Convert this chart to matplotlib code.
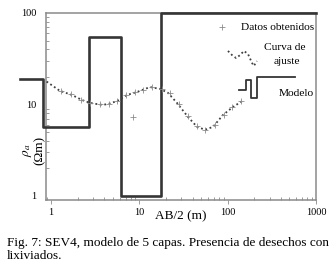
import matplotlib
matplotlib.use('Agg')
import matplotlib.pyplot as plt
from matplotlib.ticker import LogLocator, NullFormatter, FixedLocator, FixedFormatter

# layered model (steps-post): AB/2 where each layer starts, resistivity of layer
model_ab2 = [0.45, 0.81, 2.7, 6.2, 17.6, 1000]
model_rho = [19.0, 5.7, 55.0, 1.0, 100.0, 100.0]

# fitted curve
fit_ab2 = [0.81, 1.26, 1.73, 2.24, 2.77, 3.78, 4.42, 5.59, 7.26, 9.42, 13.2,
           17.2, 21.1, 26.7, 35.6, 45.0, 55.5, 68.4, 88.7, 115, 146]
fit_rho = [19.0, 14.1, 12.7, 11.2, 10.4, 9.9, 10.1, 10.9, 12.7, 13.7, 15.5,
           14.8, 13.4, 10.4, 7.3, 5.7, 5.3, 5.7, 7.7, 9.4, 10.9]

# field data
obs_ab2 = [1.3, 1.7, 2.2, 2.8, 3.6, 4.5, 5.6, 7.1, 8.5, 9.0, 11, 14, 18, 22,
           28, 36, 45, 56, 71, 90, 112, 140]
obs_rho = [14.1, 12.9, 11.3, 10.4, 10.0, 10.1, 10.9, 12.6, 7.3, 13.6, 14.5,
           15.6, 14.8, 13.2, 10.2, 7.4, 5.8, 5.3, 5.9, 7.6, 9.3, 10.8]

x_ticks = [1, 10, 100, 1000]
x_labels = ['1', '10', '100', '1000']
y_ticks = [1, 10, 100]
y_labels = ['1', '10', '100']

# legend glyph shapes (axes fraction)
wave_x = [0.674, 0.689, 0.704, 0.719, 0.733, 0.748, 0.763, 0.770, 0.781]
wave_y = [0.797, 0.775, 0.759, 0.775, 0.797, 0.781, 0.733, 0.717, 0.743]
step_x = [0.715, 0.741, 0.741, 0.759, 0.759, 0.781, 0.781, 0.922]
step_y = [0.588, 0.588, 0.642, 0.642, 0.545, 0.545, 0.658, 0.658]

plt.rcParams['font.family'] = ['Liberation Serif', 'DejaVu Serif']
plt.rcParams['mathtext.fontset'] = 'stix'

fig = plt.figure(figsize=(3.34, 2.70), dpi=100)
ax = fig.add_axes([0.1377, 0.2593, 0.8084, 0.6926])
ax.set_xscale('log')
ax.set_yscale('log')
ax.set_xlim(0.878, 1000)
ax.set_ylim(0.904, 100)

spine_col = '#8a8a8a'
for s in ax.spines.values():
    s.set_color(spine_col)
    s.set_linewidth(1.1)

model_col = '#353535'
ax.plot(model_ab2, model_rho, drawstyle='steps-post', color=model_col,
        lw=1.9, clip_on=False, zorder=3)
ax.plot(fit_ab2, fit_rho, linestyle=(0, (1, 1.5)), color='#404040', lw=1.3,
        zorder=4)
ax.plot(obs_ab2, obs_rho, linestyle='none', marker='+', ms=4, mew=0.6,
        color='#8c8c8c', zorder=5)

ax.xaxis.set_major_locator(FixedLocator(x_ticks))
ax.xaxis.set_major_formatter(FixedFormatter(x_labels))
ax.yaxis.set_major_locator(FixedLocator(y_ticks))
ax.yaxis.set_major_formatter(FixedFormatter(y_labels))
ax.xaxis.set_minor_locator(LogLocator(base=10, subs=range(2, 10)))
ax.yaxis.set_minor_locator(LogLocator(base=10, subs=range(2, 10)))
ax.xaxis.set_minor_formatter(NullFormatter())
ax.yaxis.set_minor_formatter(NullFormatter())
ax.tick_params(which='major', direction='out', length=3, width=0.6,
               color=spine_col, labelsize=7.5, pad=3)
ax.tick_params(which='minor', direction='in', length=2.5, width=0.6,
               color=spine_col)
ax.tick_params(axis='y', which='major', length=0, pad=7)

ax.text(0.5, -0.055, 'AB/2 (m)', transform=ax.transAxes, ha='center',
        va='top', fontsize=9.5)
ax.text(-0.048, 0.267, '$\\rho_a$\n(\u03a9m)', transform=ax.transAxes,
        rotation=90, ha='center', va='center', ma='center', fontsize=9.5,
        linespacing=1.0)

# legend
ax.plot([0.652], [0.925], marker='+', ms=4, mew=0.6, color='#8c8c8c',
        transform=ax.transAxes, linestyle='none')
ax.text(0.993, 0.925, 'Datos obtenidos', transform=ax.transAxes, ha='right',
        va='center', fontsize=8.2)
ax.plot(wave_x, wave_y, linestyle=(0, (1, 1.5)), color='#404040', lw=1.3,
        transform=ax.transAxes)
ax.text(0.885, 0.813, 'Curva de', transform=ax.transAxes, ha='center',
        va='center', fontsize=8.2)
ax.text(0.893, 0.743, 'ajuste', transform=ax.transAxes, ha='center',
        va='center', fontsize=8.2)
ax.plot(step_x, step_y, color=model_col, lw=1.3, transform=ax.transAxes)
ax.text(0.993, 0.572, 'Modelo', transform=ax.transAxes, ha='right',
        va='center', fontsize=8.2)

fig.text(0.021, 0.076, 'Fig. 7: SEV4, modelo de 5 capas. Presencia de desechos con\nlixiviados.',
         ha='left', va='center', fontsize=9.5, linespacing=1.05)

fig.savefig('out.png', dpi=100)
